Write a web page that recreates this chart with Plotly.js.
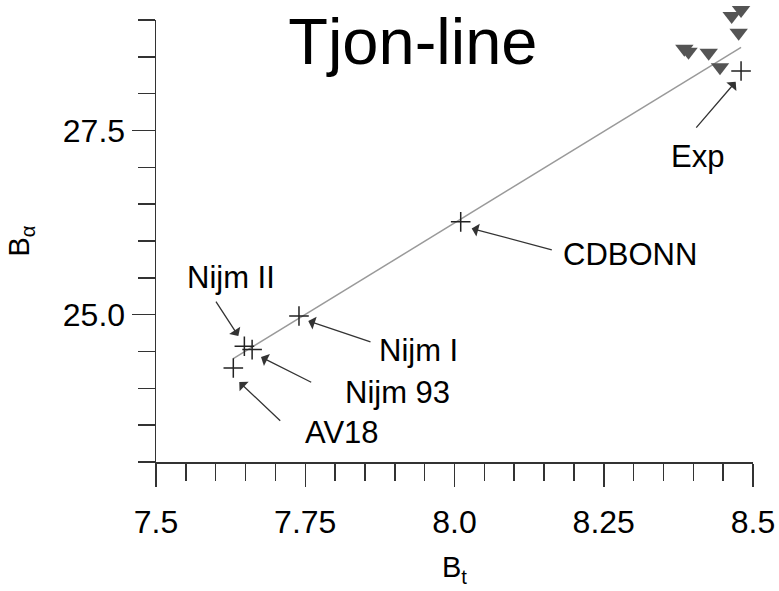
<!DOCTYPE html>
<html>
<head>
<meta charset="utf-8">
<script src="https://cdn.plot.ly/plotly-3.0.1.min.js"></script>
<style>html,body{margin:0;padding:0;background:#fff}</style>
</head>
<body>
<div id="chart" style="width:779px;height:591px"></div>
<script>
// Model points (B_t, B_alpha)
const modelNames = ["AV18", "Nijm II", "Nijm 93", "Nijm I", "CDBONN", "Exp"];
const modelBt = [7.6295, 7.648, 7.661, 7.7395, 8.0104, 8.480];
const modelBa = [24.276, 24.571, 24.526, 24.982, 26.26, 28.307];

// Triangle points (other calculations)
const triBt = [8.480, 8.4643, 8.476, 8.385, 8.392, 8.4258, 8.4447];
const triBa = [29.136, 29.054, 28.827, 28.61, 28.569, 28.556, 28.357];

// Tjon line endpoints
const lineBt = [7.6295, 8.480];
const lineBa = [24.404, 28.629];

// Label positions and arrow tails/tips
const labelText = ["Nijm II", "Nijm I", "Nijm 93", "AV18", "CDBONN", "Exp"];
const labelX = [7.6256, 7.9405, 7.9045, 7.8116, 8.294, 8.4062];
const labelY = [25.508, 24.516, 23.946, 23.402, 25.821, 27.152];
const arrowTailX = [7.5988, 7.8618, 7.7625, 7.7106, 8.1655, 8.4028];
const arrowTailY = [25.196, 24.625, 24.072, 23.542, 25.875, 27.519];
const arrowTipX = [7.6379, 7.7551, 7.6759, 7.6395, 8.0288, 8.471];
const arrowTipY = [24.711, 24.914, 24.425, 24.086, 26.170, 28.162];

const xTickVals = [7.5, 7.75, 8.0, 8.25, 8.5];
const xTickText = ["7.5", "7.75", "8.0", "8.25", "8.5"];
const yTickVals = [25.0, 27.5];
const yTickText = ["25.0", "27.5"];

const FONT = "Liberation Sans, Arial, Helvetica, sans-serif";

// plot area: 0..462 px tall; main y axis occupies the lower 442 px (range 23..29)
const Y_DOMAIN_TOP = 442 / 462;
const Y2_MAX = 23 + 6 / Y_DOMAIN_TOP;

const traces = [
  {
    x: lineBt, y: lineBa, mode: "lines", type: "scatter",
    line: {color: "#9a9a9a", width: 1.5}, hoverinfo: "skip", showlegend: false
  },
  {
    x: triBt, y: triBa, yaxis: "y2", mode: "markers", type: "scatter", cliponaxis: false,
    marker: {symbol: "triangle-down", size: 16, color: "#545454", line: {width: 0}},
    showlegend: false
  },
  {
    x: modelBt, y: modelBa, mode: "markers", type: "scatter", cliponaxis: false,
    text: modelNames,
    marker: {symbol: "cross-thin", size: 14, line: {color: "#222", width: 1.5}},
    showlegend: false
  }
];

const annotations = [];
for (let i = 0; i < labelText.length; i++) {
  annotations.push({
    x: arrowTipX[i], y: arrowTipY[i], xref: "x", yref: "y",
    ax: arrowTailX[i], ay: arrowTailY[i], axref: "x", ayref: "y",
    text: "", showarrow: true, arrowhead: 1, arrowsize: 1.7, arrowwidth: 1.3,
    arrowcolor: "#333", standoff: 0, startstandoff: 0
  });
  annotations.push({
    x: labelX[i], y: labelY[i], xref: "x", yref: "y",
    text: labelText[i], showarrow: false,
    xanchor: "center", yanchor: "middle",
    font: {family: FONT, size: 31, color: "#000"}
  });
}

const axisCommon = {
  showline: true, linecolor: "#333", linewidth: 1.5,
  showgrid: false, zeroline: false, mirror: false,
  ticks: "outside", ticklen: 23, tickwidth: 1.5, tickcolor: "#333",
  tickmode: "array",
  tickfont: {family: FONT, size: 32, color: "#000"}
};

const layout = {
  width: 779, height: 591,
  margin: {l: 156, r: 26, t: 0, b: 129, pad: 0},
  paper_bgcolor: "#fff", plot_bgcolor: "rgba(0,0,0,0)",
  title: {
    text: "Tjon-line", font: {family: FONT, size: 65, color: "#000"},
    x: 0.530, xref: "container", xanchor: "center",
    y: 0.93, yref: "container", yanchor: "middle"
  },
  xaxis: Object.assign({}, axisCommon, {
    range: [7.5, 8.5], tickvals: xTickVals, ticktext: xTickText,
    anchor: "y", ticklabelstandoff: 8,
    minor: {tickmode: "linear", tick0: 7.5, dtick: 0.05, ticks: "outside", ticklen: 17, tickwidth: 1.5, tickcolor: "#333"},
    title: {text: "B<sub>t</sub>", font: {family: FONT, size: 29, color: "#000"}, standoff: 18}
  }),
  yaxis: Object.assign({}, axisCommon, {
    range: [23, 29], domain: [0, Y_DOMAIN_TOP], tickvals: yTickVals, ticktext: yTickText,
    ticklabelstandoff: 0,
    minor: {tickmode: "linear", tick0: 23, dtick: 0.5, ticks: "outside", ticklen: 17, tickwidth: 1.5, tickcolor: "#333"},
    title: {text: "B<sub>α</sub>", font: {family: FONT, size: 29, color: "#000"}, standoff: 24}
  }),
  yaxis2: {
    range: [23, Y2_MAX], domain: [0, 1], anchor: "x", visible: false,
    showgrid: false, zeroline: false
  },
  annotations: annotations,
  showlegend: false
};

Plotly.newPlot("chart", traces, layout, {displayModeBar: false, staticPlot: true});
</script>
</body>
</html>
